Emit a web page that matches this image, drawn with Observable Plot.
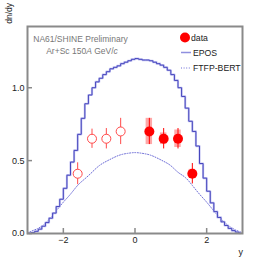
<!DOCTYPE html>
<html>
<head>
<meta charset="utf-8">
<script src="https://cdn.jsdelivr.net/npm/d3@7"></script>
<script src="https://cdn.jsdelivr.net/npm/@observablehq/plot@0.6"></script>
<style>
  html, body { margin: 0; padding: 0; background: white; }
</style>
</head>
<body>
<div id="chart"></div>
<script>
// EPOS histogram (bin centres, width 0.1)
const eposX = [-2.95,-2.85,-2.75,-2.65,-2.55,-2.45,-2.35,-2.25,-2.15,-2.05,
  -1.95,-1.85,-1.75,-1.65,-1.55,-1.45,-1.35,-1.25,-1.15,-1.05,
  -0.95,-0.85,-0.75,-0.65,-0.55,-0.45,-0.35,-0.25,-0.15,-0.05,
  0.05,0.15,0.25,0.35,0.45,0.55,0.65,0.75,0.85,0.95,
  1.05,1.15,1.25,1.35,1.45,1.55,1.65,1.75,1.85,1.95,
  2.05,2.15,2.25,2.35,2.45,2.55,2.65,2.75,2.85,2.95];
const eposY = [0.002,0.006,0.015,0.03,0.05,0.075,0.105,0.14,0.185,0.235,
  0.31,0.40,0.49,0.57,0.68,0.79,0.89,0.95,1.00,1.04,
  1.065,1.09,1.11,1.13,1.14,1.15,1.165,1.175,1.185,1.195,
  1.20,1.195,1.19,1.19,1.185,1.175,1.165,1.155,1.14,1.12,
  1.09,1.05,1.00,0.94,0.86,0.77,0.70,0.60,0.48,0.38,
  0.29,0.21,0.15,0.11,0.08,0.055,0.035,0.02,0.01,0.003];

// FTFP-BERT curve
const ftfpX = [-3.0,-2.8,-2.6,-2.4,-2.2,-2.0,-1.8,-1.6,-1.4,-1.2,-1.0,-0.8,-0.6,-0.4,-0.2,
  0.0,0.2,0.4,0.6,0.8,1.0,1.2,1.4,1.6,1.8,2.0,2.2,2.4,2.6,2.8,3.0];
const ftfpY = [0.005,0.025,0.05,0.095,0.155,0.215,0.27,0.33,0.375,0.42,0.465,0.495,0.52,0.54,0.55,
  0.555,0.55,0.54,0.52,0.495,0.465,0.42,0.385,0.33,0.27,0.215,0.155,0.10,0.055,0.025,0.005];

// measured data
const dataX = [0.4, 0.8, 1.2, 1.6];
const dataY = [0.70, 0.65, 0.65, 0.41];
const dataStat = [0.09, 0.07, 0.07, 0.07];
const dataSys = [0.09, 0.04, 0.06, 0.03];

// reflected data (open circles)
const reflX = [-1.6, -1.2, -0.8, -0.4];
const reflY = [0.41, 0.65, 0.65, 0.70];
const reflErr = [0.075, 0.066, 0.07, 0.09];

const xTicks = [-2, 0, 2];
const yTicks = [0.0, 0.5, 1.0];

const epos = eposX.map((x, i) => ({x, y: eposY[i]}));
const ftfp = ftfpX.map((x, i) => ({x, y: ftfpY[i]}));
const data = dataX.map((x, i) => ({x, y: dataY[i], stat: dataStat[i], sys: dataSys[i]}));
const refl = reflX.map((x, i) => ({x, y: reflY[i], err: reflErr[i]}));

const RED = "#ff0000";
const OPENRED = "#ff4a4a";

const svg = Plot.plot({
  width: 270,
  height: 259,
  marginLeft: 27,
  marginRight: 28,
  marginTop: 26,
  marginBottom: 26,
  x: {domain: [-3, 3]},
  y: {domain: [0, 1.42]},
  style: {fontFamily: "'Liberation Sans', Arial, sans-serif", fontSize: "9px", background: "white", color: "#222"},
  marks: [
    Plot.line(ftfp, {x: "x", y: "y", stroke: "#6b6bd6", strokeWidth: 1, strokeDasharray: "1,1.6", curve: "natural"}),
    Plot.line(epos, {x: "x", y: "y", stroke: "#c4c4f2", strokeWidth: 2.2, curve: "step"}),
    Plot.line(epos, {x: "x", y: "y", stroke: "#4646bd", strokeWidth: 1, curve: "step"}),
    Plot.rect(data, {x1: d => d.x - 0.09, x2: d => d.x + 0.09, y1: d => d.y - d.sys, y2: d => d.y + d.sys, fill: "#ffa8a8"}),
    Plot.ruleX(data, {x: "x", y1: d => d.y - d.stat, y2: d => d.y + d.stat, stroke: RED, strokeWidth: 1}),
    Plot.dot(data, {x: "x", y: "y", r: 5, fill: RED, stroke: "none"}),
    Plot.ruleX(refl, {x: "x", y1: d => d.y - d.err, y2: d => d.y + d.err, stroke: OPENRED, strokeWidth: 1}),
    Plot.dot(refl, {x: "x", y: "y", r: 4.5, fill: "white", stroke: OPENRED, strokeWidth: 1}),
    Plot.frame({stroke: "#8a8a8a", strokeWidth: 2}),
    Plot.axisX({ticks: xTicks, tickSize: -5, tickPadding: 8, label: null, tickFormat: d3.format("d"), stroke: "#8a8a8a", strokeWidth: 1.5, fill: "#222"}),
    Plot.axisY({ticks: yTicks, tickSize: -5, tickPadding: 8, label: null, tickFormat: d3.format(".1f"), stroke: "#8a8a8a", strokeWidth: 1.5, fill: "#222"})
  ]
});

document.getElementById("chart").appendChild(svg);

// annotations and legend
const s = d3.select(svg);
const font = "'Liberation Sans', Arial, sans-serif";
const g = s.append("g").attr("font-family", font);

g.append("text").attr("x", 80.5).attr("y", 39).attr("dy", "0.35em")
  .attr("text-anchor", "middle").attr("font-size", 8.5).attr("fill", "#777")
  .text("NA61/SHINE Preliminary");
const t2 = g.append("text").attr("x", 82).attr("y", 51.5).attr("dy", "0.35em")
  .attr("text-anchor", "middle").attr("font-size", 8.5).attr("fill", "#777");
t2.append("tspan").text("Ar+Sc 150");
t2.append("tspan").attr("font-style", "italic").text("A");
t2.append("tspan").text(" GeV/");
t2.append("tspan").attr("font-style", "italic").text("c");

// axis titles
g.append("text").attr("transform", "translate(12,3) rotate(-90)")
  .attr("text-anchor", "end").attr("font-size", 8.5).attr("fill", "#222").text("dn/dy");
g.append("text").attr("x", 243).attr("y", 255)
  .attr("text-anchor", "end").attr("font-size", 9).attr("fill", "#222").text("y");

// legend
const legend = [
  {label: "data", kind: "dot", y: 37.5},
  {label: "EPOS", kind: "line", y: 52.5},
  {label: "FTFP-BERT", kind: "dash", y: 68}
];
legend.forEach(l => {
  if (l.kind === "dot") {
    g.append("circle").attr("cx", 185).attr("cy", l.y).attr("r", 5).attr("fill", RED);
    g.append("text").attr("x", 191).attr("y", l.y).attr("dy", "0.35em").attr("text-anchor", "start")
      .attr("font-size", 8.7).attr("fill", "#222").text(l.label);
  } else {
    g.append("line").attr("x1", 181).attr("x2", 191).attr("y1", l.y).attr("y2", l.y)
      .attr("stroke", l.kind === "line" ? "#8f8fdf" : "#6b6bd6")
      .attr("stroke-width", l.kind === "line" ? 1.5 : 1)
      .attr("stroke-dasharray", l.kind === "dash" ? "1,1.6" : null);
    g.append("text").attr("x", 193).attr("y", l.y).attr("dy", "0.35em").attr("text-anchor", "start")
      .attr("font-size", 8.7).attr("fill", "#222").text(l.label);
  }
});
</script>
</body>
</html>
